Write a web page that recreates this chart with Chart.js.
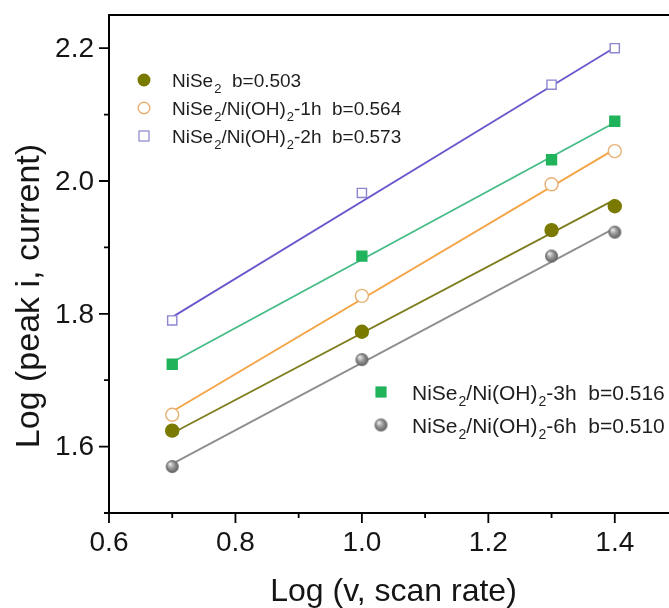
<!DOCTYPE html>
<html><head><meta charset="utf-8">
<script src="https://cdn.jsdelivr.net/npm/chart.js@4.4.0/dist/chart.umd.min.js"></script>
<style>
html,body{margin:0;padding:0;background:#fff;overflow:hidden;width:669px;height:608px}
#wrap{position:absolute;left:0;top:0;width:700px;height:608px}
</style></head><body>
<div id="wrap"><canvas id="c" width="700" height="608"></canvas></div>
<script>
// ---- data ----
const scanRates = [0.7, 1.0, 1.3, 1.4];
const niSe2    = [1.624, 1.773, 1.926, 1.962];
const niSe2_1h = [1.648, 1.827, 1.995, 2.045];
const niSe2_2h = [1.790, 1.982, 2.145, 2.200];
const niSe2_3h = [1.724, 1.887, 2.032, 2.090];
const niSe2_6h = [1.570, 1.731, 1.887, 1.923];
// fitted line end points (at x = 0.7 and x = 1.4)
const fitX = [0.7, 1.4];
const fitNiSe2    = [1.620, 1.972];
const fitNiSe2_1h = [1.653, 2.048];
const fitNiSe2_2h = [1.795, 2.201];
const fitNiSe2_3h = [1.727, 2.088];
const fitNiSe2_6h = [1.574, 1.929];
const seriesNames = ['NiSe_2', 'NiSe_2/Ni(OH)_2-1h', 'NiSe_2/Ni(OH)_2-2h', 'NiSe_2/Ni(OH)_2-3h', 'NiSe_2/Ni(OH)_2-6h'];
const bValues = ['0.503', '0.564', '0.573', '0.516', '0.510'];
const xMajorTicks = [0.6, 0.8, 1.0, 1.2, 1.4];
const xTickLabels = ['0.6', '0.8', '1.0', '1.2', '1.4'];
const xMinorTicks = [0.7, 0.9, 1.1, 1.3, 1.5];
const yMajorTicks = [1.6, 1.8, 2.0, 2.2];
const yTickLabels = ['1.6', '1.8', '2.0', '2.2'];
const yMinorTicks = [1.5, 1.7, 1.9, 2.1];
const xTitle = 'Log (v, scan rate)';
const yTitle = 'Log (peak i, current)';

const FONT = "'Liberation Sans', Arial, sans-serif";

// sphere marker for the 6h series
function makeSphere(r) {
  const c = document.createElement('canvas');
  c.width = c.height = r * 2 + 2;
  const g = c.getContext('2d');
  const cx = r + 1, cy = r + 1;
  const grad = g.createRadialGradient(cx - r * 0.35, cy - r * 0.4, r * 0.1, cx, cy, r);
  grad.addColorStop(0, '#e6e6e6');
  grad.addColorStop(0.45, '#9a9a9a');
  grad.addColorStop(1, '#5c5c5c');
  g.fillStyle = grad;
  g.beginPath(); g.arc(cx, cy, r, 0, Math.PI * 2); g.fill();
  return c;
}
const sphere = makeSphere(6.5);

const styles = [
  { line: '#7d7d1e', pt: 'circle', fill: '#7a7a00', stroke: '#7a7a00', r: 6.5 },
  { line: '#f4a445', pt: 'circle', fill: '#ffffff', stroke: '#e9b074', r: 6.5 },
  { line: '#6a58cc', pt: 'rect',   fill: '#ffffff', stroke: '#8a86cf', r: 6.5 },
  { line: '#45bb86', pt: 'rect',   fill: '#20b35c', stroke: '#20b35c', r: 7 },
  { line: '#8e8e8e', pt: sphere,   fill: '#888888', stroke: '#888888', r: 6.5 }
];
const seriesValues = [niSe2, niSe2_1h, niSe2_2h, niSe2_3h, niSe2_6h];
const fitValues = [fitNiSe2, fitNiSe2_1h, fitNiSe2_2h, fitNiSe2_3h, fitNiSe2_6h];

const datasets = [];
seriesValues.forEach((vals, i) => {
  datasets.push({
    type: 'line',
    label: seriesNames[i] + ' fit',
    data: fitX.map((x, k) => ({ x, y: fitValues[i][k] })),
    borderColor: styles[i].line,
    borderWidth: 1.8,
    pointRadius: 0,
    fill: false,
    order: 10
  });
  datasets.push({
    type: 'scatter',
    label: seriesNames[i],
    data: scanRates.map((x, k) => ({ x, y: vals[k] })),
    showLine: false,
    pointStyle: styles[i].pt,
    pointRadius: styles[i].r,
    pointBackgroundColor: styles[i].fill,
    pointBorderColor: styles[i].stroke,
    pointBorderWidth: 1.4,
    order: 1
  });
});

function drawMarker(ctx, i, x, y) {
  const s = styles[i];
  ctx.save();
  if (s.pt === 'circle') {
    ctx.beginPath(); ctx.arc(x, y, 5.8, 0, Math.PI * 2);
    ctx.fillStyle = s.fill; ctx.fill();
    ctx.lineWidth = 1.4; ctx.strokeStyle = s.stroke; ctx.stroke();
  } else if (s.pt === 'rect') {
    const h = 5;
    ctx.fillStyle = s.fill; ctx.fillRect(x - h, y - h, 2 * h, 2 * h);
    ctx.lineWidth = 1.2; ctx.strokeStyle = s.stroke; ctx.strokeRect(x - h, y - h, 2 * h, 2 * h);
  } else {
    ctx.drawImage(s.pt, x - s.pt.width / 2, y - s.pt.height / 2);
  }
  ctx.restore();
}

function drawRich(ctx, text, x, y, size) {
  // '_' marks a subscript character
  let cx = x;
  for (let k = 0; k < text.length; k++) {
    const ch = text[k];
    if (ch === '_' && k + 1 < text.length) {
      const sub = text[k + 1];
      ctx.font = Math.round(size * 0.68) + 'px ' + FONT;
      ctx.fillText(sub, cx + 1, y + size * 0.32);
      cx += ctx.measureText(sub).width + 1;
      k++;
    } else {
      ctx.font = size + 'px ' + FONT;
      ctx.fillText(ch, cx, y);
      cx += ctx.measureText(ch).width;
    }
  }
}

const decor = {
  id: 'decor',
  afterDraw(chart) {
    const ctx = chart.ctx;
    const xs = chart.scales.x, ys = chart.scales.y;
    const a = chart.chartArea;
    ctx.save();
    ctx.strokeStyle = '#000';
    ctx.lineWidth = 2;
    // frame: left, bottom, top, right
    ctx.beginPath();
    ctx.moveTo(a.left, a.top); ctx.lineTo(a.left, a.bottom);
    ctx.moveTo(a.left - 1, a.bottom); ctx.lineTo(a.right, a.bottom);
    ctx.moveTo(a.left - 1, a.top); ctx.lineTo(a.right, a.top);
    ctx.moveTo(a.right, a.top); ctx.lineTo(a.right, a.bottom);
    ctx.stroke();
    // ticks
    ctx.lineWidth = 1.8;
    ctx.beginPath();
    xMajorTicks.forEach(v => { const p = xs.getPixelForValue(v); ctx.moveTo(p, a.bottom); ctx.lineTo(p, a.bottom + 10); });
    xMinorTicks.forEach(v => { const p = xs.getPixelForValue(v); ctx.moveTo(p, a.bottom); ctx.lineTo(p, a.bottom + 5); });
    yMajorTicks.forEach(v => { const p = ys.getPixelForValue(v); ctx.moveTo(a.left, p); ctx.lineTo(a.left - 10, p); });
    yMinorTicks.forEach(v => { const p = ys.getPixelForValue(v); ctx.moveTo(a.left, p); ctx.lineTo(a.left - 5, p); });
    ctx.stroke();
    // tick labels
    ctx.fillStyle = '#151515';
    ctx.font = '28px ' + FONT;
    ctx.textAlign = 'center'; ctx.textBaseline = 'middle';
    xMajorTicks.forEach((v, k) => ctx.fillText(xTickLabels[k], xs.getPixelForValue(v), a.bottom + 30));
    ctx.textAlign = 'right';
    yMajorTicks.forEach((v, k) => ctx.fillText(yTickLabels[k], a.left - 15, ys.getPixelForValue(v) + 1));
    // axis titles
    ctx.font = '32px ' + FONT;
    ctx.textAlign = 'center'; ctx.textBaseline = 'alphabetic';
    ctx.fillText(xTitle, (a.left + a.right) / 2, 601);
    ctx.save();
    ctx.font = '34px ' + FONT;
    ctx.translate(39, 296);
    ctx.rotate(-Math.PI / 2);
    ctx.fillText(yTitle, 0, 0);
    ctx.restore();
    // legends
    ctx.textAlign = 'left'; ctx.textBaseline = 'alphabetic';
    ctx.fillStyle = '#1e1e1e';
    const topRows = [80, 108, 136];
    [0, 1, 2].forEach((i, r) => {
      drawMarker(ctx, i, 144, topRows[r]);
      drawRich(ctx, seriesNames[i] + '  b=' + bValues[i], 172, topRows[r] + 7, 19);
    });
    const botRows = [392, 425];
    [3, 4].forEach((i, r) => {
      drawMarker(ctx, i, 381, botRows[r]);
      drawRich(ctx, seriesNames[i] + '  b=' + bValues[i], 412, botRows[r] + 7.5, 21);
    });
    ctx.restore();
  }
};

new Chart(document.getElementById('c'), {
  type: 'scatter',
  data: { datasets },
  options: {
    responsive: false,
    animation: false,
    layout: { padding: { left: 109, top: 15, right: 22, bottom: 95 } },
    plugins: { legend: { display: false }, tooltip: { enabled: false } },
    scales: {
      x: { type: 'linear', min: 0.6, max: 1.5, display: false },
      y: { type: 'linear', min: 1.5, max: 2.25, display: false }
    }
  },
  plugins: [decor]
});
</script>
</body></html>
